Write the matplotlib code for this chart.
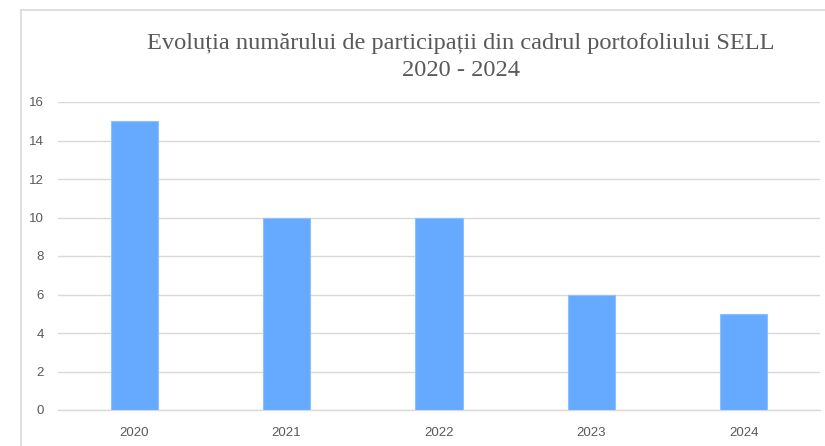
import matplotlib
matplotlib.use("Agg")
import matplotlib.pyplot as plt
from matplotlib.lines import Line2D

years = ["2020", "2021", "2022", "2023", "2024"]
values = [15, 10, 10, 6, 5]
yticks = [0, 2, 4, 6, 8, 10, 12, 14, 16]
title = "Evoluția numărului de participații din cadrul portofoliului SELL\n2020 - 2024"

W, H = 825, 446
fig = plt.figure(figsize=(W / 100, H / 100), dpi=100)
fig.patch.set_facecolor("white")

# plot area in pixels
left, right, bottom_px, top_px = 58, 820, 410, 102
ax = fig.add_axes([left / W, 1 - bottom_px / H, (right - left) / W, (bottom_px - top_px) / H])

x = list(range(len(years)))
ax.bar(x, values, width=0.31, color="#66aaff", edgecolor="#8cc0ff", linewidth=0.8, zorder=3)
ax.set_xlim(-0.5, len(years) - 0.5)
ax.set_ylim(0, 16)
ax.set_yticks(yticks)
ax.set_yticklabels([str(t) for t in yticks])
ax.set_xticks(x)
ax.set_xticklabels(years)
ax.grid(axis="y", color="#d9d9d9", linewidth=1, zorder=0)
for s in ["top", "right", "left"]:
    ax.spines[s].set_visible(False)
ax.spines["bottom"].set_color("#d9d9d9")
ax.spines["bottom"].set_linewidth(1)
ax.tick_params(axis="both", length=0, labelsize=9.5, labelcolor="#595959")
for lab in ax.get_xticklabels() + ax.get_yticklabels():
    lab.set_fontfamily("Liberation Sans")
ax.tick_params(axis="y", pad=10)
ax.tick_params(axis="x", pad=12)

fig.text(461 / W, 1 - 57 / H, title, ha="center", va="center", fontsize=17.6,
         family="Liberation Serif", color="#595959", linespacing=1.4)

# outer frame (top and left edges visible)
fig.add_artist(Line2D([21 / W, 21 / W], [0, 1 - 10 / H], transform=fig.transFigure, color="#d9d9d9", lw=1.2))
fig.add_artist(Line2D([21 / W, 1], [1 - 10 / H, 1 - 10 / H], transform=fig.transFigure, color="#d9d9d9", lw=1.2))

fig.savefig("out.png", dpi=100, facecolor="white")
